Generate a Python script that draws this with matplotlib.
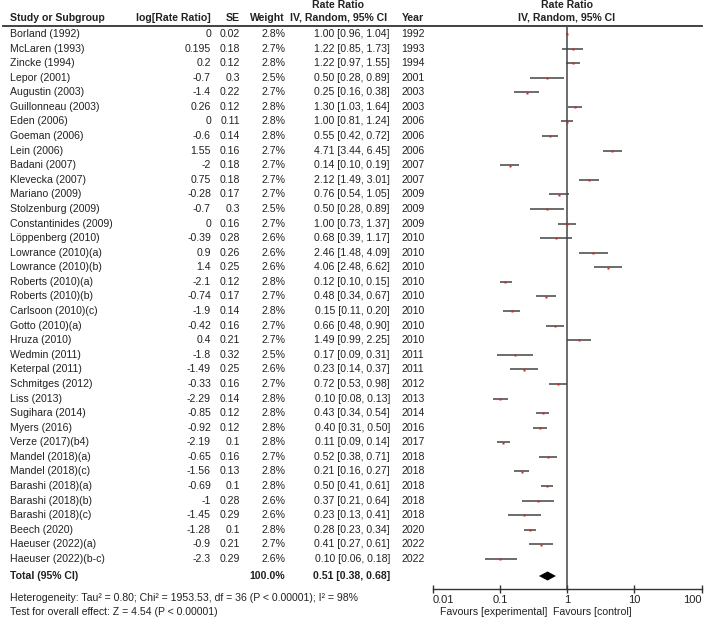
import matplotlib
matplotlib.use("Agg")
import matplotlib.pyplot as plt
import numpy as np

plt.rcParams['font.family'] = ['Liberation Sans', 'DejaVu Sans']

studies = ["Borland (1992)", "McLaren (1993)", "Zincke (1994)", "Lepor (2001)", "Augustin (2003)",
           "Guillonneau (2003)", "Eden (2006)", "Goeman (2006)", "Lein (2006)", "Badani (2007)",
           "Klevecka (2007)", "Mariano (2009)", "Stolzenburg (2009)", "Constantinides (2009)",
           "Löppenberg (2010)", "Lowrance (2010)(a)", "Lowrance (2010)(b)", "Roberts (2010)(a)",
           "Roberts (2010)(b)", "Carlsoon (2010)(c)", "Gotto (2010)(a)", "Hruza (2010)",
           "Wedmin (2011)", "Keterpal (2011)", "Schmitges (2012)", "Liss (2013)", "Sugihara (2014)",
           "Myers (2016)", "Verze (2017)(b4)", "Mandel (2018)(a)", "Mandel (2018)(c)",
           "Barashi (2018)(a)", "Barashi (2018)(b)", "Barashi (2018)(c)", "Beech (2020)",
           "Haeuser (2022)(a)", "Haeuser (2022)(b-c)"]
log_rr = [0, 0.195, 0.2, -0.7, -1.4, 0.26, 0, -0.6, 1.55, -2, 0.75, -0.28, -0.7, 0, -0.39, 0.9, 1.4,
          -2.1, -0.74, -1.9, -0.42, 0.4, -1.8, -1.49, -0.33, -2.29, -0.85, -0.92, -2.19, -0.65, -1.56,
          -0.69, -1, -1.45, -1.28, -0.9, -2.3]
se = [0.02, 0.18, 0.12, 0.3, 0.22, 0.12, 0.11, 0.14, 0.16, 0.18, 0.18, 0.17, 0.3, 0.16, 0.28, 0.26,
      0.25, 0.12, 0.17, 0.14, 0.16, 0.21, 0.32, 0.25, 0.16, 0.14, 0.12, 0.12, 0.1, 0.16, 0.13, 0.1,
      0.28, 0.29, 0.1, 0.21, 0.29]
weight = [2.8, 2.7, 2.8, 2.5, 2.7, 2.8, 2.8, 2.8, 2.7, 2.7, 2.7, 2.7, 2.5, 2.7, 2.6, 2.6, 2.6, 2.8,
          2.7, 2.8, 2.7, 2.7, 2.5, 2.6, 2.7, 2.8, 2.8, 2.8, 2.8, 2.7, 2.8, 2.8, 2.6, 2.6, 2.8, 2.7, 2.6]
rr = [1.00, 1.22, 1.22, 0.50, 0.25, 1.30, 1.00, 0.55, 4.71, 0.14, 2.12, 0.76, 0.50, 1.00, 0.68, 2.46,
      4.06, 0.12, 0.48, 0.15, 0.66, 1.49, 0.17, 0.23, 0.72, 0.10, 0.43, 0.40, 0.11, 0.52, 0.21, 0.50,
      0.37, 0.23, 0.28, 0.41, 0.10]
ci_lo = [0.96, 0.85, 0.97, 0.28, 0.16, 1.03, 0.81, 0.42, 3.44, 0.10, 1.49, 0.54, 0.28, 0.73, 0.39,
         1.48, 2.48, 0.10, 0.34, 0.11, 0.48, 0.99, 0.09, 0.14, 0.53, 0.08, 0.34, 0.31, 0.09, 0.38,
         0.16, 0.41, 0.21, 0.13, 0.23, 0.27, 0.06]
ci_hi = [1.04, 1.73, 1.55, 0.89, 0.38, 1.64, 1.24, 0.72, 6.45, 0.19, 3.01, 1.05, 0.89, 1.37, 1.17,
         4.09, 6.62, 0.15, 0.67, 0.20, 0.90, 2.25, 0.31, 0.37, 0.98, 0.13, 0.54, 0.50, 0.14, 0.71,
         0.27, 0.61, 0.64, 0.41, 0.34, 0.61, 0.18]
years = [1992, 1993, 1994, 2001, 2003, 2003, 2006, 2006, 2006, 2007, 2007, 2009, 2009, 2009, 2010,
         2010, 2010, 2010, 2010, 2010, 2010, 2010, 2011, 2011, 2012, 2013, 2014, 2016, 2017, 2018,
         2018, 2018, 2018, 2018, 2020, 2022, 2022]
total_weight = 100.0
total_rr, total_lo, total_hi = 0.51, 0.38, 0.68
heterogeneity = "Heterogeneity: Tau\u00b2 = 0.80; Chi\u00b2 = 1953.53, df = 36 (P < 0.00001); I\u00b2 = 98%"
overall = "Test for overall effect: Z = 4.54 (P < 0.00001)"
xticks = [0.01, 0.1, 1, 10, 100]
xtick_labels = ["0.01", "0.1", "1", "10", "100"]

W, H = 711, 617
fig = plt.figure(figsize=(W / 100, H / 100), dpi=100)
tx = fig.add_axes([0, 0, 1, 1])
tx.set_xlim(0, W)
tx.set_ylim(H, 0)
tx.axis('off')

fs = 7.6
tc = '#222222'
lc = '#444444'
row0, step = 34.0, 14.58
n = len(studies)
ys = [row0 + step * k for k in range(n)]
y_total = 576

# headers
hb = dict(fontsize=fs, fontweight='bold', color=tc, va='center')
tx.text(338, 5, "Rate Ratio", ha='center', **hb)
tx.text(567, 5, "Rate Ratio", ha='center', **hb)
tx.text(10, 18, "Study or Subgroup", ha='left', **hb)
tx.text(211, 18, "log[Rate Ratio]", ha='right', **hb)
tx.text(240, 18, "SE", ha='right', **hb)
tx.text(285, 18, "Weight", ha='right', **hb)
tx.text(339, 18, "IV, Random, 95% CI", ha='center', **hb)
tx.text(402, 18, "Year", ha='left', **hb)
tx.text(567, 18, "IV, Random, 95% CI", ha='center', **hb)
tx.plot([3, 702], [25.5, 25.5], color='#333333', lw=1.3)

tr = dict(fontsize=fs, color=tc, va='center')
for k in range(n):
    y = ys[k]
    tx.text(10, y, studies[k], ha='left', **tr)
    tx.text(211, y, f"{log_rr[k]:g}", ha='right', **tr)
    tx.text(240, y, f"{se[k]:g}", ha='right', **tr)
    tx.text(285, y, f"{weight[k]:.1f}%", ha='right', **tr)
    tx.text(390, y, f"{rr[k]:.2f} [{ci_lo[k]:.2f}, {ci_hi[k]:.2f}]", ha='right', **tr)
    tx.text(401, y, f"{years[k]}", ha='left', **tr)

tx.text(10, y_total, "Total (95% CI)", ha='left', **hb)
tx.text(285, y_total, f"{total_weight:.1f}%", ha='right', **hb)
tx.text(390, y_total, f"{total_rr:.2f} [{total_lo:.2f}, {total_hi:.2f}]", ha='right', **hb)
tx.text(10, 598, heterogeneity, ha='left', **tr)
tx.text(10, 612, overall, ha='left', **tr)

# forest axes: pixel extents
x0, x1 = 432.7, 701.7
ytop, ybot = 25.5, 589
ax = fig.add_axes([x0 / W, 1 - ybot / H, (x1 - x0) / W, (ybot - ytop) / H])
ax.set_xscale('log')
ax.set_xlim(0.01, 100)
ax.set_ylim(ybot, ytop)
ax.patch.set_alpha(0)
for s in ['top', 'left', 'right']:
    ax.spines[s].set_visible(False)
ax.spines['bottom'].set_color('#333333')
ax.spines['bottom'].set_linewidth(1.0)
ax.set_yticks([])
ax.set_xticks(xticks)
labels = ax.set_xticklabels(xtick_labels, fontsize=8, color=tc)
labels[0].set_horizontalalignment('left')
labels[-1].set_horizontalalignment('right')
ax.minorticks_off()
ax.tick_params(axis='x', direction='inout', length=6, width=1, color='#333333', pad=1)
ax.axvline(1, color=lc, lw=1.1)

for k in range(n):
    ax.plot([ci_lo[k], ci_hi[k]], [ys[k], ys[k]], color=lc, lw=1.1, solid_capstyle='butt')
    ax.plot(rr[k], ys[k] + 0.3, marker='s', ms=1.6 + (weight[k] - 2.5), color='#dd2020', mec='none')

ax.fill([total_lo, total_rr, total_hi, total_rr], [y_total, y_total - 4.5, y_total, y_total + 4.5],
        color='black', lw=0)

tx.text(547, 612, "Favours [experimental]", ha='right', **tr)
tx.text(553, 612, "Favours [control]", ha='left', **tr)

fig.savefig("out.png", dpi=100)
